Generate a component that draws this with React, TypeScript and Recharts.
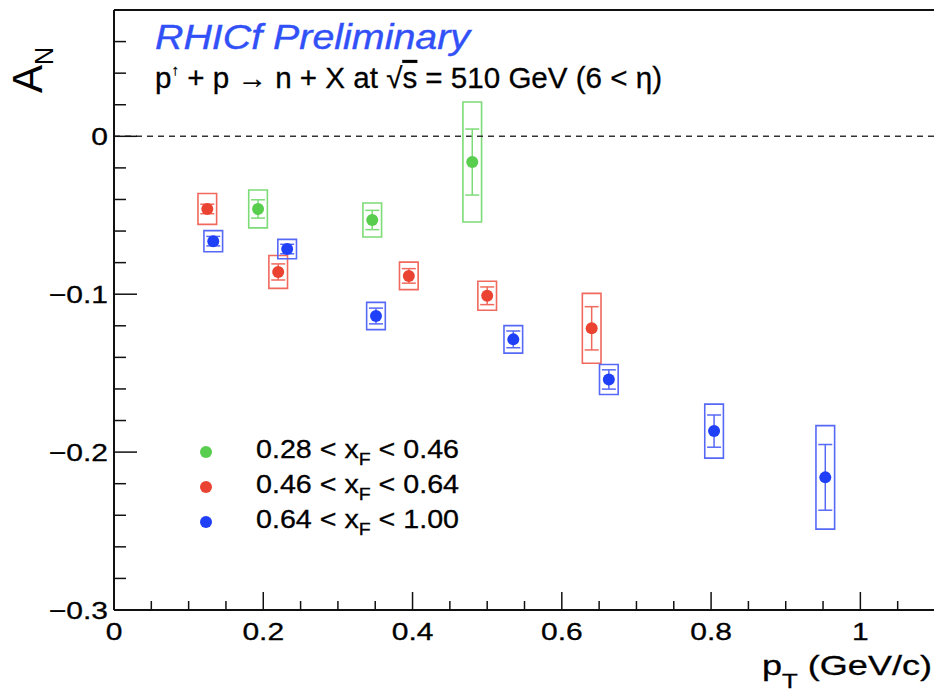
import {
  ComposedChart,
  Scatter,
  XAxis,
  YAxis,
  ErrorBar,
  ReferenceArea,
  ReferenceLine,
  Legend,
} from "recharts";

// pT (GeV/c), A_N, stat error, sys error for each xF bin
const greenPt = [0.193, 0.346, 0.48];
const greenAn = [-0.046, -0.053, -0.0163];
const greenStat = [0.0058, 0.0061, 0.0209];
const greenSys = [0.012, 0.0108, 0.038];

const redPt = [0.125, 0.22, 0.395, 0.5, 0.64];
const redAn = [-0.046, -0.0859, -0.0884, -0.101, -0.1216];
const redStat = [0.003, 0.0051, 0.0046, 0.0056, 0.0137];
const redSys = [0.0098, 0.0104, 0.0087, 0.0092, 0.0221];

const bluePt = [0.133, 0.232, 0.351, 0.535, 0.663, 0.804, 0.953];
const blueAn = [-0.0664, -0.0714, -0.1138, -0.1286, -0.154, -0.1867, -0.216];
const blueStat = [0.003, 0.003, 0.005, 0.0053, 0.0061, 0.0102, 0.0208];
const blueSys = [0.0067, 0.0061, 0.0086, 0.0087, 0.0095, 0.0171, 0.0328];

const xfLow = ["0.28", "0.46", "0.64"];
const xfHigh = ["0.46", "0.64", "1.00"];

const xTicks = [
  0, 0.05, 0.1, 0.15, 0.2, 0.25, 0.3, 0.35, 0.4, 0.45, 0.5, 0.55, 0.6, 0.65,
  0.7, 0.75, 0.8, 0.85, 0.9, 0.95, 1.0, 1.05, 1.1,
];
const yTicks = [
  -0.3, -0.28, -0.26, -0.24, -0.22, -0.2, -0.18, -0.16, -0.14, -0.12, -0.1,
  -0.08, -0.06, -0.04, -0.02, 0, 0.02, 0.04, 0.06, 0.08,
];

const BOX_HALF_W = 0.0125;
const FONT = "'Liberation Sans', Arial, Helvetica, sans-serif";

const rows = (pt: number[], an: number[], stat: number[], sys: number[]) =>
  pt.map((x, i) => ({ x, y: an[i], stat: stat[i], sys: sys[i] }));

const series = [
  { key: "g", color: "#58cd4e", box: "#7ddc77", data: rows(greenPt, greenAn, greenStat, greenSys) },
  { key: "r", color: "#ea4331", box: "#f0695c", data: rows(redPt, redAn, redStat, redSys) },
  { key: "b", color: "#1f40f6", box: "#5669f6", data: rows(bluePt, blueAn, blueStat, blueSys) },
];

const isMult = (v: number, k: number) => Math.abs(v * k - Math.round(v * k)) < 1e-6;

function XTick(props: any) {
  const { x, y, payload } = props;
  const v = payload.value as number;
  const major = isMult(v, 5);
  const label = v === 0 ? "0" : isMult(v, 1) ? String(Math.round(v)) : v.toFixed(1);
  return (
    <g>
      <line x1={x} x2={x} y1={y} y2={y - (major ? 18 : 9)} stroke="#111" strokeWidth={1.5} />
      {major && (
        <text
          transform={`translate(${x},${y + 30}) scale(1.25,1)`}
          textAnchor="middle"
          fontFamily={FONT}
          fontSize={24}
          fill="#000"
          stroke="#000"
          strokeWidth={0.3}
        >
          {label}
        </text>
      )}
    </g>
  );
}

function YTick(props: any) {
  const { x, y, payload } = props;
  const v = payload.value as number;
  const major = isMult(v, 10);
  const label = Math.abs(v) < 1e-9 ? "0" : "\u2212" + Math.abs(v).toFixed(1);
  return (
    <g>
      <line x1={x} x2={x + (major ? 23 : 12)} y1={y} y2={y} stroke="#111" strokeWidth={1.5} />
      {major && (
        <text
          transform={`translate(${x - 6},${y + 9}) scale(1.25,1)`}
          textAnchor="end"
          fontFamily={FONT}
          fontSize={24}
          fill="#000"
          stroke="#000"
          strokeWidth={0.3}
        >
          {label}
        </text>
      )}
    </g>
  );
}

function LegendBox() {
  return (
    <svg width={300} height={110} style={{ overflow: "visible" }}>
      {series.map((s, i) => (
        <g key={s.key}>
          <circle cx={16} cy={17 + 35 * i} r={6} fill={s.color} />
          <text
            x={66}
            y={23 + 35 * i}
            fontFamily={FONT}
            fontSize={25}
            fill="#000"
            stroke="#000"
            strokeWidth={0.3}
            textLength={203}
            lengthAdjust="spacingAndGlyphs"
          >
            {xfLow[i] + " < x"}
            <tspan fontSize={17} dy={7}>F</tspan>
            <tspan dy={-7}>{" < " + xfHigh[i]}</tspan>
          </text>
        </g>
      ))}
    </svg>
  );
}

export default function App() {
  return (
    <div style={{ position: "absolute", left: 0, top: 0, width: 934, height: 697, overflow: "hidden", background: "#fff" }}>
      <ComposedChart
        width={960}
        height={697}
        margin={{ top: 10, right: 25, bottom: 57, left: 54 }}
      >
        <XAxis
          type="number"
          dataKey="x"
          domain={[0, 1.1]}
          allowDataOverflow
          ticks={xTicks}
          interval={0}
          tick={<XTick />}
          tickLine={false}
          tickSize={0}
          tickMargin={0}
          height={30}
          axisLine={{ stroke: "#111", strokeWidth: 2 }}
        />
        <YAxis
          type="number"
          dataKey="y"
          domain={[-0.3, 0.08]}
          allowDataOverflow
          ticks={yTicks}
          interval={0}
          tick={<YTick />}
          tickLine={false}
          tickSize={0}
          tickMargin={0}
          width={60}
          axisLine={{ stroke: "#111", strokeWidth: 2 }}
        />
        <ReferenceLine y={0.08} stroke="#111" strokeWidth={2} />
        <ReferenceLine y={0} stroke="#333" strokeWidth={1.5} strokeDasharray="6 5" />
        {series.map((s) =>
          s.data.map((d, i) => (
            <ReferenceArea
              key={s.key + i}
              x1={d.x - BOX_HALF_W}
              x2={d.x + BOX_HALF_W}
              y1={d.y - d.sys}
              y2={d.y + d.sys}
              fill="none"
              stroke={s.box}
              strokeWidth={1.6}
              ifOverflow="visible"
            />
          ))
        )}
        {series.map((s) => (
          <Scatter
            key={s.key}
            name={s.key}
            data={s.data}
            dataKey="y"
            fill={s.color}
            isAnimationActive={false}
            shape={(p: any) => <circle cx={p.cx} cy={p.cy} r={6} fill={s.color} />}
          >
            <ErrorBar dataKey="stat" direction="y" width={7} stroke={s.box} strokeWidth={1.5} />
          </Scatter>
        ))}
        <Legend
          layout="vertical"
          align="center"
          verticalAlign="middle"
          content={<LegendBox />}
          wrapperStyle={{ left: 190, top: 435, width: 300, height: 110 }}
        />
      </ComposedChart>
      <svg
        width={934}
        height={697}
        style={{ position: "absolute", left: 0, top: 0, pointerEvents: "none" }}
      >
        <text
          x={155}
          y={49}
          fontFamily={FONT}
          fontStyle="italic"
          fontSize={35}
          fill="#3150f7"
          stroke="#3150f7"
          strokeWidth={0.4}
          textLength={315}
          lengthAdjust="spacingAndGlyphs"
        >
          RHICf Preliminary
        </text>
        <text
          x={155}
          y={88}
          fontFamily={FONT}
          fontSize={29}
          fill="#000"
          stroke="#000"
          strokeWidth={0.3}
          textLength={507}
          lengthAdjust="spacingAndGlyphs"
        >
          p
          <tspan fontSize={15} dy={-13}>{"\u2191"}</tspan>
          <tspan dy={13}>{" + p \u2192 n + X at "}</tspan>
          <tspan>{"\u221A"}</tspan>
          <tspan style={{ textDecoration: "overline" }}>s</tspan>
          <tspan>{" = 510 GeV (6 < \u03B7)"}</tspan>
        </text>
        <text transform="translate(42,93) rotate(-90)" fontFamily={FONT} fontSize={42} fill="#000">
          A<tspan fontSize={25} dy={11}>N</tspan>
        </text>
        <text
          x={932}
          y={675}
          textAnchor="end"
          fontFamily={FONT}
          fontSize={28}
          fill="#000"
          stroke="#000"
          strokeWidth={0.3}
          textLength={170}
          lengthAdjust="spacingAndGlyphs"
        >
          p<tspan fontSize={20} dy={13}>T</tspan>
          <tspan dy={-13}>{" (GeV/c)"}</tspan>
        </text>
      </svg>
    </div>
  );
}
